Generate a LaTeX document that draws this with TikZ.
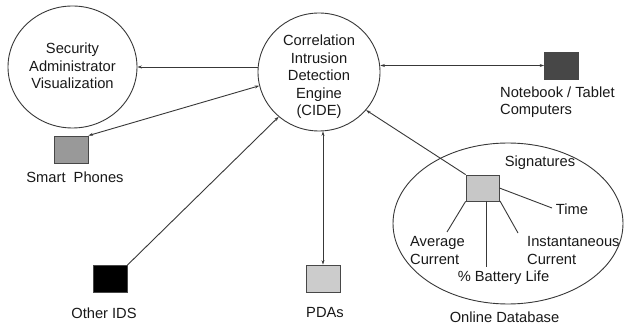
\documentclass[tikz,border=0pt]{standalone}
\usepackage{fontspec}
\setmainfont{Liberation Sans}
\usetikzlibrary{arrows.meta,shapes.geometric}
\begin{document}
\begin{tikzpicture}[x=1pt,y=-1pt,
  >={Stealth[length=4.5pt,width=3pt]},
  every node/.style={font=\fontsize{14.7}{17.5}\selectfont, inner sep=0pt, text=black!90},
  bigell/.style={draw=black!78, ellipse, line width=0.9pt, align=center},
  dev/.style={draw=black!72, minimum width=34pt, minimum height=27pt, line width=0.8pt},
  conn/.style={draw=black!78, line width=0.9pt},
  lbl/.style={align=center},
  lbll/.style={align=left, anchor=west},
]
\useasboundingbox (0,0) rectangle (626,328);
\fill[white] (0,0) rectangle (626,328);

% main circles
\node[bigell, minimum width=129pt, minimum height=122pt] (sec) at (72.5,67) {};
\node[lbl] (sectext) at (72.5,66) {Security\\Administrator\\Visualization};
\node[bigell, minimum width=122pt, minimum height=118pt] (cide) at (319,72) {};
\node[lbl] (cidetext) at (319,77) {Correlation\\Intrusion\\Detection\\Engine\\(CIDE)};

% online database ellipse
\node[bigell, minimum width=230pt, minimum height=161pt] (db) at (508,223.5) {};
\node[lbl] (dbtext) at (504.5,317) {Online Database};

% devices
\node[dev, fill=black!72] (nb) at (561.5,65.5) {};
\node[lbll] (nbtext) at (500,102) {Notebook / Tablet\\Computers};
\node[dev, fill=black!40] (sp) at (71,149.5) {};
\node[lbl] (sptext) at (75,177) {Smart\ \ Phones};
\node[dev, fill=black] (oids) at (110,279) {};
\node[lbl] (oidstext) at (104,313) {Other IDS};
\node[dev, fill=black!20] (pda) at (323,278.5) {};
\node[lbl] (pdatext) at (325,313) {PDAs};

% signatures
\node[dev, fill=black!22, minimum width=33pt, minimum height=26pt] (sig) at (482.5,188) {};
\node[lbl] (sigtext) at (540,163) {Signatures};
\node[lbl] (time) at (572,209) {Time};
\node[lbll] (avg) at (410,250.5) {Average\\Current};
\node[lbll] (inst) at (527,250.5) {Instantaneous\\Current};
\node[lbl] (batt) at (503.5,278) {\% Battery Life};

\coordinate (timeend) at (552,208);
\coordinate (avgend) at (447,232);
\coordinate (inststart) at (500,201);
\coordinate (instend) at (518,233);
\coordinate (battstart) at (486,201);
\coordinate (battend) at (486,267);

% connectors
\draw[conn, ->] (cide.west |- sec.east) -- (sec.east);
\draw[conn, <->] (cide.east |- nb.west) -- (nb.west);
\draw[conn, <->] (sp.north east) -- (cide.193);
\draw[conn, ->] (oids.north east) -- (cide.228);
\draw[conn, <->] (cide.south -| pda.north) -- (pda.north);
\draw[conn, ->] (sig.north west) -- (cide.321);

\draw[conn] (sig.east) -- (timeend);
\draw[conn] (sig.south west) -- (avgend);
\draw[conn] (inststart) -- (instend);
\draw[conn] (battstart) -- (battend);
\end{tikzpicture}
\end{document}
